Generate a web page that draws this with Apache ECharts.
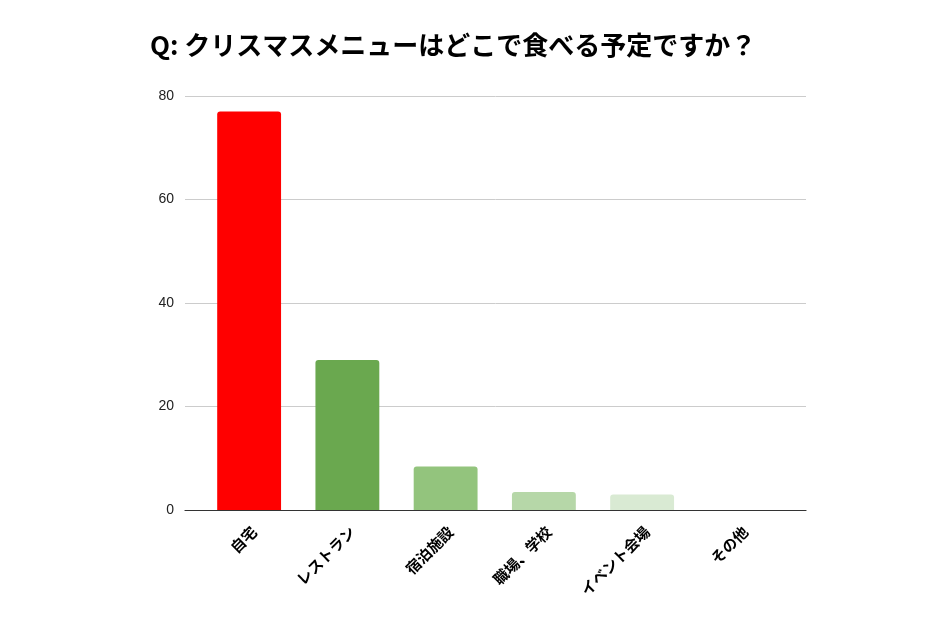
<!DOCTYPE html>
<html>
<head>
<meta charset="utf-8">
<script src="https://cdn.jsdelivr.net/npm/echarts@6/dist/echarts.min.js"></script>
<style>
html,body{margin:0;padding:0;background:#fff;}
#chart{width:952px;height:635px;}
</style>
</head>
<body>
<div id="chart"></div>
<script>
const titleText = 'Q: クリスマスメニューはどこで食べる予定ですか？';
const categories = ['自宅', 'レストラン', '宿泊施設', '職場、学校', 'イベント会場', 'その他'];
const values = [77, 29, 8.4, 3.5, 3.0, 0];
const barColors = ['#ff0000', '#6aa84f', '#93c47d', '#b6d7a8', '#d9ead3', '#eeeeee'];
const yTicks = { min: 0, max: 80, interval: 20 };

const chart = echarts.init(document.getElementById('chart'), null, { renderer: 'canvas' });
const cjk = '"Noto Sans CJK JP", "Noto Sans", sans-serif';
chart.setOption({
  animation: false,
  backgroundColor: '#ffffff',
  title: {
    text: titleText,
    left: 145,
    top: 27,
    textStyle: { fontFamily: cjk, fontSize: 26, fontWeight: 'bold', color: '#000' }
  },
  grid: [
    { left: 185, right: 146, top: 96, bottom: 125 },
    { left: 200, right: 162.5, top: 96, bottom: 125 }
  ],
  xAxis: [
    {
      gridIndex: 0, type: 'category', data: [''],
      axisLine: { show: true, lineStyle: { color: '#333', width: 1.2 } },
      axisTick: { show: false }, axisLabel: { show: false }, splitLine: { show: false }
    },
    {
      gridIndex: 1, type: 'category', data: categories,
      axisLine: { show: false }, axisTick: { show: false },
      axisLabel: {
        rotate: 45, margin: 24, fontSize: 15, color: '#000', fontWeight: 'bold',
        fontFamily: cjk, interval: 0, padding: [0, -7, 0, 0]
      }
    }
  ],
  yAxis: [
    {
      gridIndex: 0, type: 'value', min: yTicks.min, max: yTicks.max, interval: yTicks.interval,
      axisLine: { show: false }, axisTick: { show: false },
      axisLabel: { fontSize: 14, color: '#222', margin: 11, fontFamily: 'Liberation Sans, Arial, sans-serif' },
      splitLine: { show: true, lineStyle: { color: '#cccccc', width: 1 } }
    },
    {
      gridIndex: 1, type: 'value', min: yTicks.min, max: yTicks.max, interval: yTicks.interval,
      axisLine: { show: false }, axisTick: { show: false }, axisLabel: { show: false },
      splitLine: { show: false }
    }
  ],
  series: [
    {
      type: 'bar',
      xAxisIndex: 1, yAxisIndex: 1,
      barWidth: '65%',
      z: 3,
      data: values.map((v, i) => ({ value: v, itemStyle: { color: barColors[i], borderRadius: [3, 3, 0, 0] } }))
    }
  ]
});
</script>
</body>
</html>
